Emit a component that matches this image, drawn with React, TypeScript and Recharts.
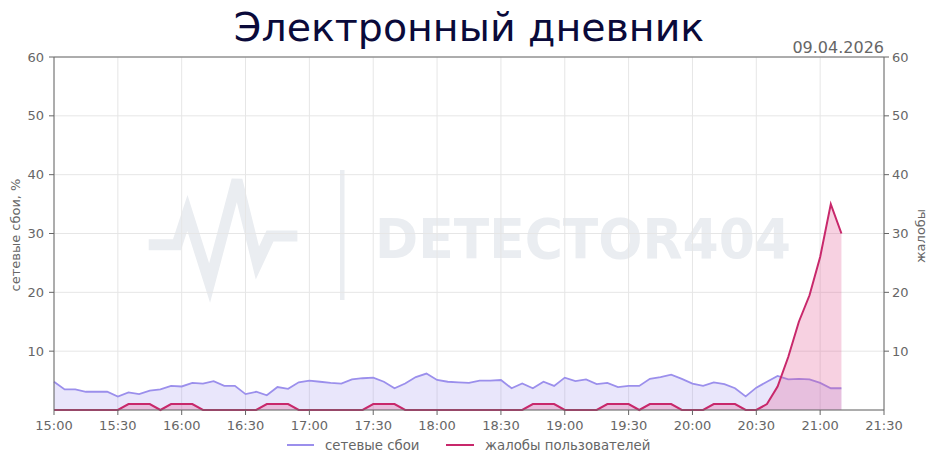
import React from "react";
import {
  ComposedChart,
  Area,
  XAxis,
  YAxis,
  CartesianGrid,
  ReferenceLine,
} from "recharts";

const times = [
  "15:00", "15:05", "15:10", "15:15", "15:20", "15:25", "15:30", "15:35", "15:40", "15:45", "15:50", "15:55",
  "16:00", "16:05", "16:10", "16:15", "16:20", "16:25", "16:30", "16:35", "16:40", "16:45", "16:50", "16:55",
  "17:00", "17:05", "17:10", "17:15", "17:20", "17:25", "17:30", "17:35", "17:40", "17:45", "17:50", "17:55",
  "18:00", "18:05", "18:10", "18:15", "18:20", "18:25", "18:30", "18:35", "18:40", "18:45", "18:50", "18:55",
  "19:00", "19:05", "19:10", "19:15", "19:20", "19:25", "19:30", "19:35", "19:40", "19:45", "19:50", "19:55",
  "20:00", "20:05", "20:10", "20:15", "20:20", "20:25", "20:30", "20:35", "20:40", "20:45", "20:50", "20:55",
  "21:00", "21:05", "21:10",
];

const networkFailures = [
  4.8, 3.5, 3.5, 3.1, 3.1, 3.1, 2.3, 3.0, 2.7, 3.3, 3.5, 4.1,
  4.0, 4.6, 4.5, 4.9, 4.1, 4.1, 2.7, 3.1, 2.5, 3.9, 3.6, 4.7,
  5.0, 4.8, 4.6, 4.5, 5.2, 5.4, 5.5, 4.8, 3.7, 4.5, 5.6, 6.2,
  5.1, 4.8, 4.7, 4.6, 5.0, 5.0, 5.1, 3.7, 4.5, 3.7, 4.8, 4.1,
  5.5, 4.9, 5.2, 4.4, 4.6, 3.9, 4.1, 4.1, 5.3, 5.6, 6.0, 5.3,
  4.5, 4.1, 4.7, 4.4, 3.7, 2.3, 3.8, 4.8, 5.8, 5.2, 5.3, 5.2,
  4.6, 3.7, 3.7,
];

const userComplaints = [
  0, 0, 0, 0, 0, 0, 0, 1, 1, 1, 0, 1,
  1, 1, 0, 0, 0, 0, 0, 0, 1, 1, 1, 0,
  0, 0, 0, 0, 0, 0, 1, 1, 1, 0, 0, 0,
  0, 0, 0, 0, 0, 0, 0, 0, 0, 1, 1, 1,
  0, 0, 0, 0, 1, 1, 1, 0, 1, 1, 1, 0,
  0, 0, 1, 1, 1, 0, 0, 1, 4, 9, 15, 19.5,
  26, 35, 30,
];

const xTickLabels = [
  "15:00", "15:30", "16:00", "16:30", "17:00", "17:30", "18:00",
  "18:30", "19:00", "19:30", "20:00", "20:30", "21:00", "21:30",
];

const yTicks = [10, 20, 30, 40, 50, 60];

const TITLE = "Электронный дневник";
const DATE = "09.04.2026";
const LEFT_LABEL = "сетевые сбои, %";
const RIGHT_LABEL = "жалобы";
const SERIES_NAMES = ["сетевые сбои", "жалобы пользователей"];

const toMin = (s: string) => {
  const [h, m] = s.split(":").map(Number);
  return (h - 15) * 60 + m;
};

const data = times.map((t, i) => ({
  m: toMin(t),
  net: networkFailures[i],
  comp: userComplaints[i],
}));

const xTicks = xTickLabels.map(toMin);
const labelOf = (v: number) => xTickLabels[xTicks.indexOf(v)] ?? "";

const BLUE = "#9b8fec";
const RED = "#c8286b";
const FONT = "'DejaVu Sans', sans-serif";
const GREY = "#666";
const WM = "#eaedf1";

export default function App() {
  return (
    <div
      style={{
        position: "absolute",
        left: 0,
        top: 0,
        width: 938,
        height: 468,
        background: "#fff",
        fontFamily: FONT,
      }}
    >
      <svg
        width={938}
        height={468}
        style={{ position: "absolute", left: 0, top: 0 }}
      >
        <polyline
          points="148.7,244.7 177,244.7 187.4,213 209.6,283 237,180 257.4,263 270,236 297.4,236"
          fill="none"
          stroke={WM}
          strokeWidth={11}
          strokeLinejoin="miter"
        />
        <rect x={340} y={170} width={4.5} height={130} fill={WM} />
        <text
          x={375}
          y={258}
          fontFamily={FONT}
          fontWeight="bold"
          fontSize={55}
          fill={WM}
          textLength={416}
          lengthAdjust="spacingAndGlyphs"
        >
          DETECTOR404
        </text>
      </svg>
      <div style={{ position: "absolute", left: 0, top: 0 }}>
        <ComposedChart
          width={938}
          height={468}
          data={data}
          margin={{ top: 57, right: 0, left: 0, bottom: 0 }}
        >
          <CartesianGrid stroke="#e6e6e6" strokeWidth={1} />
          <XAxis
            dataKey="m"
            type="number"
            domain={[0, 390]}
            ticks={xTicks}
            interval={0}
            tickFormatter={labelOf}
            height={58}
            stroke={GREY}
            tickSize={5}
            tickMargin={6}
            tick={{ fill: GREY, fontSize: 13, fontFamily: FONT }}
          />
          <YAxis
            domain={[0, 60]}
            ticks={yTicks}
            interval={0}
            width={54}
            stroke={GREY}
            tickSize={5}
            tickMargin={5}
            tick={{ fill: GREY, fontSize: 13, fontFamily: FONT }}
          />
          <YAxis
            yAxisId="right"
            orientation="right"
            domain={[0, 60]}
            ticks={yTicks}
            interval={0}
            width={54}
            stroke={GREY}
            tickSize={5}
            tickMargin={3}
            tick={{ fill: GREY, fontSize: 13, fontFamily: FONT, textAnchor: "start" }}
          />
          <ReferenceLine y={60} stroke={GREY} strokeWidth={1} />
          <Area
            type="linear"
            dataKey="net"
            stroke={BLUE}
            strokeWidth={1.8}
            fill={BLUE}
            fillOpacity={0.22}
            dot={false}
            activeDot={false}
            isAnimationActive={false}
          />
          <Area
            yAxisId="right"
            type="linear"
            dataKey="comp"
            stroke={RED}
            strokeWidth={2}
            fill="#e0558f"
            fillOpacity={0.27}
            dot={false}
            activeDot={false}
            isAnimationActive={false}
          />
        </ComposedChart>
      </div>
      <svg
        width={938}
        height={468}
        style={{ position: "absolute", left: 0, top: 0, pointerEvents: "none" }}
      >
        <text
          x={469}
          y={41}
          textAnchor="middle"
          fontFamily={FONT}
          fontSize={39.5}
          fill="#0a0a3a"
        >
          {TITLE}
        </text>
        <text
          x={884}
          y={53}
          textAnchor="end"
          fontFamily={FONT}
          fontSize={16}
          fill={GREY}
        >
          {DATE}
        </text>
        <text
          transform="translate(15,235) rotate(-90)"
          textAnchor="middle"
          dominantBaseline="central"
          fontFamily={FONT}
          fontSize={13}
          fill={GREY}
        >
          {LEFT_LABEL}
        </text>
        <text
          transform="translate(920,236) rotate(-90)"
          textAnchor="middle"
          dominantBaseline="central"
          fontFamily={FONT}
          fontSize={13}
          fill={GREY}
        >
          {RIGHT_LABEL}
        </text>
        <line x1={287} y1={445} x2={314} y2={445} stroke={BLUE} strokeWidth={2} />
        <text x={325} y={450} fontFamily={FONT} fontSize={13.3} fill={GREY}>
          {SERIES_NAMES[0]}
        </text>
        <line x1={446} y1={445} x2={474} y2={445} stroke={RED} strokeWidth={2} />
        <text x={485} y={450} fontFamily={FONT} fontSize={13.3} fill={GREY}>
          {SERIES_NAMES[1]}
        </text>
      </svg>
    </div>
  );
}
